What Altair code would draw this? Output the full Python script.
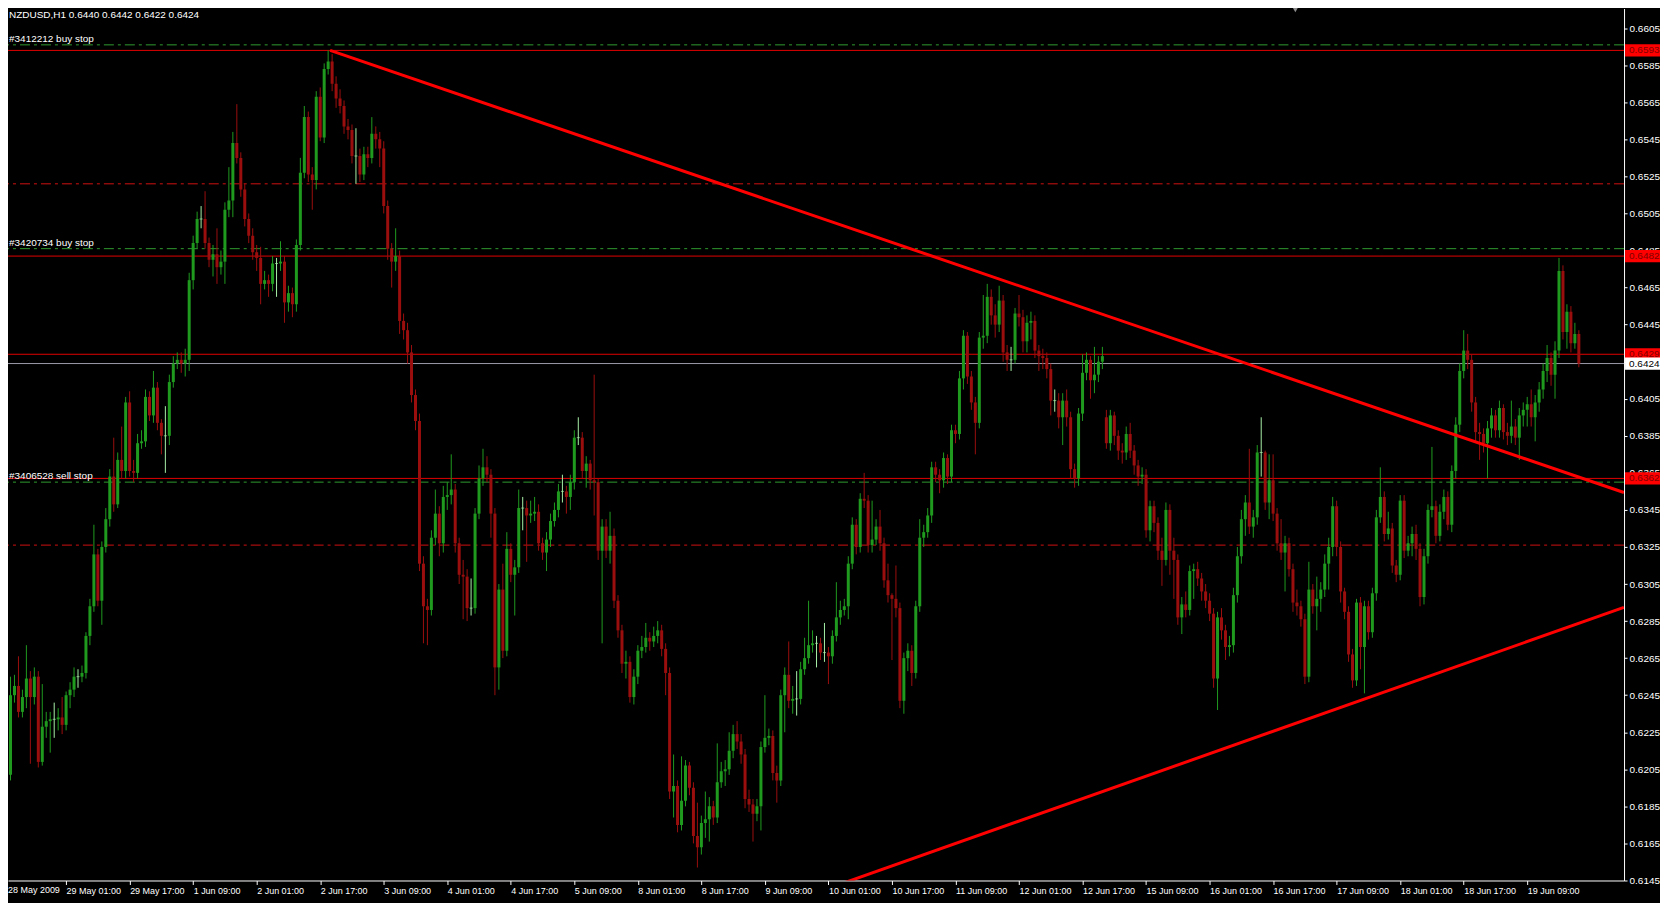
import altair as alt
import pandas as pd

TITLE = "NZDUSD,H1  0.6440 0.6442 0.6422 0.6424"

# hourly candles, prices in pips (0.6424 -> 6424); bar 1 = 28 May 10:00
FIRST_OPEN = 6212
GAP_OPENS = {278: 6395}
CLOSES = [
    6202, 6245, 6250, 6236, 6244, 6254, 6244, 6255, 6209, 6228,
    6231, 6232, 6232, 6233, 6229, 6245, 6248, 6255, 6255, 6257,
    6277, 6293, 6321, 6296, 6325, 6340, 6363, 6348, 6372, 6366,
    6403, 6366, 6365, 6381, 6382, 6406, 6396, 6411, 6392, 6385,
    6385, 6414, 6424, 6426, 6424, 6426, 6469, 6489, 6502, 6502,
    6489, 6480, 6483, 6476, 6479, 6507, 6512, 6543, 6535, 6518,
    6502, 6493, 6484, 6481, 6467, 6469, 6467, 6478, 6478, 6479,
    6457, 6462, 6456, 6488, 6527, 6557, 6526, 6523, 6568, 6546,
    6583, 6587, 6575, 6567, 6563, 6552, 6550, 6536, 6536, 6526,
    6537, 6535, 6548, 6545, 6540, 6509, 6486, 6479, 6482, 6447,
    6442, 6430, 6407, 6393, 6316, 6293, 6291, 6330, 6343, 6327,
    6352, 6353, 6356, 6327, 6310, 6309, 6292, 6292, 6343, 6362,
    6368, 6364, 6343, 6260, 6302, 6269, 6324, 6310, 6314, 6346,
    6346, 6342, 6343, 6344, 6327, 6322, 6329, 6339, 6345, 6355,
    6355, 6352, 6360, 6384, 6384, 6366, 6370, 6361, 6360, 6323,
    6336, 6323, 6331, 6296, 6280, 6262, 6263, 6244, 6255, 6269,
    6271, 6276, 6274, 6277, 6280, 6270, 6257, 6193, 6196, 6175,
    6188, 6207, 6195, 6169, 6163, 6176, 6178, 6185, 6179, 6198,
    6204, 6205, 6215, 6224, 6220, 6213, 6189, 6186, 6181, 6185,
    6217, 6222, 6223, 6203, 6199, 6245, 6256, 6242, 6243, 6243,
    6259, 6265, 6272, 6273, 6273, 6268, 6268, 6266, 6277, 6287,
    6291, 6293, 6316, 6337, 6325, 6351, 6350, 6326, 6329, 6336,
    6327, 6307, 6299, 6297, 6292, 6242, 6265, 6269, 6257, 6293,
    6330, 6333, 6342, 6368, 6364, 6361, 6373, 6363, 6388, 6386,
    6416, 6439, 6417, 6403, 6392, 6438, 6439, 6460, 6450, 6445,
    6458, 6430, 6426, 6426, 6451, 6449, 6436, 6446, 6447, 6431,
    6428, 6427, 6421, 6404, 6404, 6395, 6404, 6395, 6367, 6362,
    6397, 6419, 6426, 6415, 6418, 6425, 6428, 6381, 6396, 6385,
    6377, 6376, 6386, 6377, 6369, 6363, 6364, 6334, 6347, 6338,
    6323, 6318, 6345, 6323, 6318, 6287, 6294, 6291, 6312, 6313,
    6308, 6301, 6296, 6289, 6254, 6287, 6280, 6271, 6272, 6299,
    6320, 6340, 6349, 6336, 6341, 6376, 6376, 6349, 6361, 6343,
    6327, 6322, 6327, 6313, 6295, 6293, 6286, 6255, 6302, 6293,
    6297, 6302, 6316, 6325, 6347, 6325, 6301, 6290, 6267, 6253,
    6295, 6271, 6293, 6279, 6300, 6341, 6352, 6332, 6335, 6315,
    6310, 6350, 6323, 6327, 6332, 6324, 6298, 6320, 6345, 6347,
    6331, 6344, 6352, 6337, 6366, 6391, 6420, 6431, 6426, 6403,
    6387, 6386, 6381, 6389, 6396, 6388, 6400, 6387, 6385, 6390,
    6384, 6396, 6399, 6402, 6395, 6403, 6410, 6420, 6427, 6418,
    6431, 6474, 6441, 6452, 6435, 6440, 6424,
]
HIGHS = [
    6218, 6255, 6256, 6266, 6248, 6272, 6258, 6260, 6258, 6251,
    6236, 6236, 6241, 6238, 6244, 6247, 6252, 6260, 6259, 6261,
    6279, 6297, 6337, 6324, 6328, 6346, 6367, 6384, 6376, 6390,
    6406, 6409, 6372, 6386, 6388, 6410, 6409, 6420, 6414, 6394,
    6401, 6418, 6428, 6430, 6430, 6432, 6473, 6493, 6506, 6509,
    6517, 6492, 6488, 6497, 6485, 6511, 6530, 6549, 6564, 6538,
    6521, 6505, 6497, 6488, 6487, 6474, 6472, 6482, 6481, 6490,
    6482, 6466, 6465, 6491, 6535, 6563, 6560, 6530, 6571, 6573,
    6586, 6593, 6591, 6579, 6572, 6566, 6556, 6553, 6551, 6540,
    6541, 6541, 6557, 6552, 6549, 6544, 6512, 6489, 6497, 6485,
    6451, 6446, 6434, 6410, 6397, 6320, 6297, 6334, 6356, 6347,
    6358, 6360, 6375, 6359, 6330, 6318, 6313, 6308, 6346, 6369,
    6378, 6374, 6367, 6346, 6305, 6316, 6333, 6327, 6318, 6356,
    6352, 6350, 6350, 6352, 6348, 6330, 6333, 6343, 6349, 6359,
    6364, 6358, 6364, 6388, 6395, 6387, 6374, 6372, 6418, 6362,
    6340, 6340, 6344, 6335, 6299, 6283, 6269, 6266, 6259, 6272,
    6277, 6284, 6279, 6282, 6285, 6283, 6273, 6260, 6213, 6199,
    6212, 6210, 6209, 6198, 6187, 6180, 6193, 6190, 6188, 6219,
    6209, 6210, 6225, 6229, 6231, 6224, 6216, 6194, 6189, 6189,
    6220, 6245, 6227, 6226, 6207, 6248, 6260, 6274, 6250, 6258,
    6263, 6276, 6296, 6280, 6277, 6276, 6284, 6271, 6280, 6306,
    6296, 6297, 6320, 6341, 6340, 6354, 6365, 6353, 6350, 6340,
    6345, 6330, 6316, 6300, 6315, 6295, 6268, 6273, 6272, 6296,
    6340, 6337, 6346, 6371, 6371, 6367, 6376, 6375, 6391, 6391,
    6420, 6442, 6441, 6420, 6406, 6441, 6461, 6467, 6464, 6456,
    6466, 6461, 6434, 6433, 6454, 6461, 6453, 6450, 6452, 6450,
    6434, 6432, 6430, 6424, 6410, 6408, 6408, 6410, 6398, 6370,
    6400, 6429, 6430, 6428, 6433, 6428, 6433, 6399, 6399, 6398,
    6388, 6381, 6390, 6392, 6380, 6372, 6368, 6367, 6350, 6350,
    6341, 6330, 6349, 6348, 6330, 6321, 6298, 6301, 6315, 6316,
    6317, 6311, 6305, 6300, 6292, 6290, 6292, 6283, 6277, 6303,
    6325, 6345, 6353, 6378, 6345, 6380, 6395, 6377, 6375, 6375,
    6346, 6340, 6331, 6330, 6316, 6302, 6296, 6289, 6317, 6305,
    6309, 6306, 6321, 6330, 6352, 6350, 6328, 6303, 6293, 6270,
    6297, 6298, 6296, 6296, 6303, 6345, 6368, 6355, 6344, 6338,
    6318, 6353, 6353, 6331, 6336, 6337, 6327, 6324, 6348, 6379,
    6350, 6348, 6356, 6355, 6369, 6395, 6424, 6442, 6440, 6429,
    6406, 6392, 6389, 6393, 6400, 6399, 6404, 6402, 6392, 6404,
    6394, 6400, 6403, 6406, 6410, 6407, 6414, 6424, 6434, 6430,
    6436, 6481, 6477, 6456, 6455, 6446, 6442,
]
LOWS = [
    6196, 6199, 6241, 6233, 6233, 6238, 6208, 6240, 6206, 6207,
    6222, 6214, 6222, 6226, 6224, 6226, 6238, 6244, 6249, 6252,
    6254, 6272, 6290, 6293, 6283, 6322, 6336, 6344, 6346, 6362,
    6362, 6363, 6360, 6362, 6378, 6379, 6393, 6392, 6388, 6375,
    6365, 6380, 6411, 6421, 6419, 6417, 6420, 6464, 6486, 6497,
    6486, 6476, 6471, 6467, 6472, 6467, 6503, 6503, 6532, 6514,
    6498, 6489, 6480, 6474, 6456, 6464, 6460, 6463, 6460, 6474,
    6446, 6452, 6449, 6452, 6485, 6524, 6522, 6507, 6518, 6544,
    6543, 6580, 6571, 6562, 6559, 6548, 6545, 6532, 6521, 6522,
    6523, 6530, 6532, 6540, 6530, 6505, 6480, 6465, 6474, 6440,
    6437, 6424, 6403, 6388, 6312, 6273, 6272, 6288, 6326, 6320,
    6322, 6345, 6348, 6322, 6305, 6286, 6285, 6288, 6289, 6340,
    6358, 6360, 6330, 6245, 6248, 6265, 6266, 6306, 6288, 6311,
    6334, 6317, 6338, 6339, 6323, 6318, 6312, 6325, 6336, 6341,
    6349, 6343, 6345, 6356, 6380, 6362, 6357, 6356, 6342, 6318,
    6273, 6319, 6316, 6292, 6276, 6257, 6254, 6241, 6240, 6251,
    6265, 6268, 6269, 6271, 6273, 6266, 6245, 6189, 6179, 6171,
    6172, 6185, 6191, 6165, 6152, 6159, 6168, 6166, 6175, 6176,
    6195, 6196, 6202, 6211, 6216, 6208, 6184, 6182, 6166, 6177,
    6172, 6214, 6218, 6199, 6187, 6196, 6225, 6238, 6235, 6234,
    6240, 6256, 6262, 6268, 6260, 6264, 6263, 6251, 6262, 6274,
    6283, 6288, 6286, 6313, 6321, 6322, 6346, 6322, 6322, 6326,
    6323, 6303, 6295, 6264, 6287, 6238, 6235, 6258, 6250, 6254,
    6290, 6325, 6330, 6338, 6360, 6354, 6357, 6359, 6360, 6381,
    6383, 6410, 6413, 6399, 6375, 6389, 6432, 6435, 6445, 6438,
    6441, 6425, 6420, 6420, 6424, 6444, 6430, 6430, 6437, 6427,
    6420, 6421, 6416, 6396, 6398, 6389, 6380, 6390, 6362, 6357,
    6358, 6393, 6415, 6405, 6408, 6414, 6421, 6378, 6377, 6380,
    6372, 6370, 6372, 6373, 6364, 6358, 6359, 6330, 6328, 6333,
    6318, 6304, 6315, 6310, 6297, 6283, 6278, 6287, 6288, 6297,
    6304, 6296, 6292, 6285, 6249, 6237, 6275, 6264, 6266, 6268,
    6295, 6316, 6331, 6332, 6330, 6337, 6363, 6345, 6340, 6339,
    6323, 6318, 6301, 6309, 6290, 6288, 6282, 6251, 6252, 6289,
    6280, 6290, 6298, 6302, 6320, 6320, 6295, 6286, 6263, 6249,
    6250, 6259, 6246, 6275, 6276, 6296, 6338, 6328, 6329, 6311,
    6306, 6307, 6319, 6320, 6320, 6318, 6293, 6294, 6316, 6341,
    6327, 6328, 6340, 6334, 6333, 6362, 6387, 6416, 6421, 6398,
    6382, 6372, 6376, 6362, 6384, 6384, 6384, 6383, 6380, 6381,
    6380, 6372, 6390, 6390, 6390, 6382, 6398, 6405, 6414, 6412,
    6405, 6427, 6437, 6432, 6430, 6432, 6422,
]

FIRST_DATE_LABEL = "28 May 2009"
TICK_BARS = list(range(16, 385, 16))
TICK_LABELS = [
    "29 May 01:00", "29 May 17:00", "1 Jun 09:00", "2 Jun 01:00", "2 Jun 17:00",
    "3 Jun 09:00", "4 Jun 01:00", "4 Jun 17:00", "5 Jun 09:00", "8 Jun 01:00",
    "8 Jun 17:00", "9 Jun 09:00", "10 Jun 01:00", "10 Jun 17:00", "11 Jun 09:00",
    "12 Jun 01:00", "12 Jun 17:00", "15 Jun 09:00", "16 Jun 01:00", "16 Jun 17:00",
    "17 Jun 09:00", "18 Jun 01:00", "18 Jun 17:00", "19 Jun 09:00",
]
PRICE_TICKS = [
    0.6145, 0.6165, 0.6185, 0.6205, 0.6225, 0.6245, 0.6265, 0.6285, 0.6305,
    0.6325, 0.6345, 0.6365, 0.6385, 0.6405, 0.6425, 0.6445, 0.6465, 0.6485,
    0.6505, 0.6525, 0.6545, 0.6565, 0.6585, 0.6605,
]

ORDER_PRICES = [0.6596, 0.6486, 0.6360]
ORDER_LABELS = ["#3412212 buy stop", "#3420734 buy stop", "#3406528 sell stop"]
LEVEL_PRICES = [0.6593, 0.6482, 0.6429, 0.6362]
DASH_PRICES = [0.6521, 0.6326]
BID_PRICE = 0.6424

TREND_NAMES = ["down", "down", "up", "up"]
TREND_BARS = [82.5, 408.35, 207.55, 408.35]
TREND_PRICES = [0.6593, 0.63544, 0.61404, 0.62924]

MARKER_BAR = [325.6]

# ---------------- styling ----------------
W, H = 1618, 873
XDOM = [2.625, 2.625 + W / 4.0]
YDOM = [0.61450, 0.66156]
GREEN = "#1f9a1f"
RED = "#9b0e0e"
DOJI = "#a8f0a8"
LINE_RED = "#e00000"
FONT = "Liberation Sans, Arial, sans-serif"

opens = []
for k, c in enumerate(CLOSES):
    i = k + 1
    if i in GAP_OPENS:
        opens.append(GAP_OPENS[i])
    elif k == 0:
        opens.append(FIRST_OPEN)
    else:
        opens.append(CLOSES[k - 1])

rows = []
for k, c in enumerate(CLOSES):
    o = opens[k]
    kind = "up" if c > o else ("down" if c < o else "doji")
    rows.append({
        "i": k + 1,
        "o": o / 10000.0,
        "c": c / 10000.0,
        "h": max(HIGHS[k], o, c) / 10000.0,
        "l": min(LOWS[k], o, c) / 10000.0,
        "kind": kind,
    })
candles = pd.DataFrame(rows)

xs = alt.Scale(domain=XDOM, nice=False, zero=False)
ys = alt.Scale(domain=YDOM, nice=False, zero=False)

label_arr = "[" + ",".join("'%s'" % s for s in TICK_LABELS) + "]"
x_axis = alt.Axis(
    values=TICK_BARS, labelExpr=label_arr + "[round(datum.value/16)-1]",
    orient="bottom", title=None, grid=False, domainColor="white", domainWidth=1,
    tickColor="white", tickSize=4, tickWidth=1, labelColor="white", labelFont=FONT,
    labelFontSize=9, labelAlign="left", labelBaseline="top", labelPadding=2,
    labelFlush=False, labelOverlap=False, labelBound=False,
)
y_axis = alt.Axis(
    values=PRICE_TICKS, format=".4f", orient="right", title=None, grid=False,
    domainColor="white", domainWidth=1, tickColor="white", tickSize=3, tickWidth=1,
    labelColor="white", labelFont=FONT, labelFontSize=10, labelPadding=2,
    labelFlush=False, labelOverlap=False, labelAlign="left", labelBound=False,
)


def X(f):
    return alt.X(f, type="quantitative", scale=xs, axis=x_axis)


def Y(f):
    return alt.Y(f, type="quantitative", scale=ys, axis=y_axis)


kind_color = alt.Color("kind:N", scale=alt.Scale(domain=["up", "down", "doji"],
                                                 range=[GREEN, RED, DOJI]), legend=None)

base = alt.Chart(candles)
wicks = base.mark_rule(strokeWidth=1, clip=True).encode(x=X("i"), y=Y("l"), y2="h", color=kind_color)
bodies = base.transform_filter("datum.kind != 'doji'").mark_bar(size=3, clip=True).encode(
    x=X("i"), y=Y("o"), y2="c", color=kind_color)
dojis = base.transform_filter("datum.kind == 'doji'").mark_tick(
    orient="horizontal", size=3, thickness=1, clip=True).encode(x=X("i"), y=Y("c"), color=kind_color)

order_df = pd.DataFrame({"y": ORDER_PRICES, "label": ORDER_LABELS})
order_lines = alt.Chart(order_df).mark_rule(color="#2f9a2f", strokeWidth=1,
                                            strokeDash=[10, 4, 3, 4]).encode(y=Y("y"))
order_text = alt.Chart(order_df).mark_text(align="left", baseline="bottom", dx=1, dy=-1,
                                           color="white", font=FONT, fontSize=10).encode(
    x=alt.value(0), y=Y("y"), text="label:N")

dash_df = pd.DataFrame({"y": DASH_PRICES})
dash_lines = alt.Chart(dash_df).mark_rule(color="#d01010", strokeWidth=1,
                                          strokeDash=[10, 4, 3, 4]).encode(y=Y("y"))

level_df = pd.DataFrame({"y": LEVEL_PRICES})
level_lines = alt.Chart(level_df).mark_rule(color=LINE_RED, strokeWidth=1).encode(y=Y("y"))

bid_df = pd.DataFrame({"y": [BID_PRICE]})
bid_line = alt.Chart(bid_df).mark_rule(color="#9a9aaa", strokeWidth=1).encode(y=Y("y"))

trend_df = pd.DataFrame({"name": TREND_NAMES, "i": TREND_BARS, "y": TREND_PRICES})
trends = alt.Chart(trend_df).mark_line(color="#ff0000", strokeWidth=3, clip=True).encode(
    x=X("i"), y=Y("y"), detail="name:N")

box_prices = LEVEL_PRICES + [BID_PRICE]
box_df = pd.DataFrame({
    "y": box_prices,
    "label": ["%.4f" % p for p in box_prices],
    "fill": ["#ff0000"] * len(LEVEL_PRICES) + ["#ffffff"],
    "tc": ["#800000"] * len(LEVEL_PRICES) + ["#000000"],
})
box_df["top"] = box_df["y"] + 0.00033
box_df["bot"] = box_df["y"] - 0.00033
boxes = alt.Chart(box_df).mark_rect().encode(
    x=alt.value(W + 1), x2=alt.value(W + 36), y=Y("top"), y2="bot",
    color=alt.Color("fill:N", scale=None))
box_text = alt.Chart(box_df).mark_text(align="left", baseline="middle", font=FONT,
                                       fontSize=10).encode(
    x=alt.value(W + 5), y=Y("y"), text="label:N", color=alt.Color("tc:N", scale=None))

title_df = pd.DataFrame({"t": [TITLE]})
title = alt.Chart(title_df).mark_text(align="left", baseline="top", color="white",
                                      font=FONT, fontSize=10).encode(
    x=alt.value(1), y=alt.value(1), text="t:N")

first_df = pd.DataFrame({"t": [FIRST_DATE_LABEL]})
first_label = alt.Chart(first_df).mark_text(align="left", baseline="top", color="white",
                                            font=FONT, fontSize=9).encode(
    x=alt.value(0), y=alt.value(H + 6), text="t:N")

marker_df = pd.DataFrame({"i": MARKER_BAR})
marker = alt.Chart(marker_df).mark_point(shape="triangle-down", filled=True, size=70,
                                         color="#8c8c8c", opacity=1).encode(
    x=X("i"), y=alt.value(0))

chart = alt.layer(
    dash_lines, order_lines, level_lines, bid_line,
    wicks, bodies, dojis, trends,
    boxes, box_text, order_text, title, first_label, marker,
).properties(
    width=W, height=H, background="black",
    padding={"left": 0, "top": 0, "right": 36, "bottom": 22},
    autosize=alt.AutoSizeParams(type="none"),
).configure_view(stroke=None)

chart.save("out.html", embed_options={"renderer": "svg", "actions": False})
